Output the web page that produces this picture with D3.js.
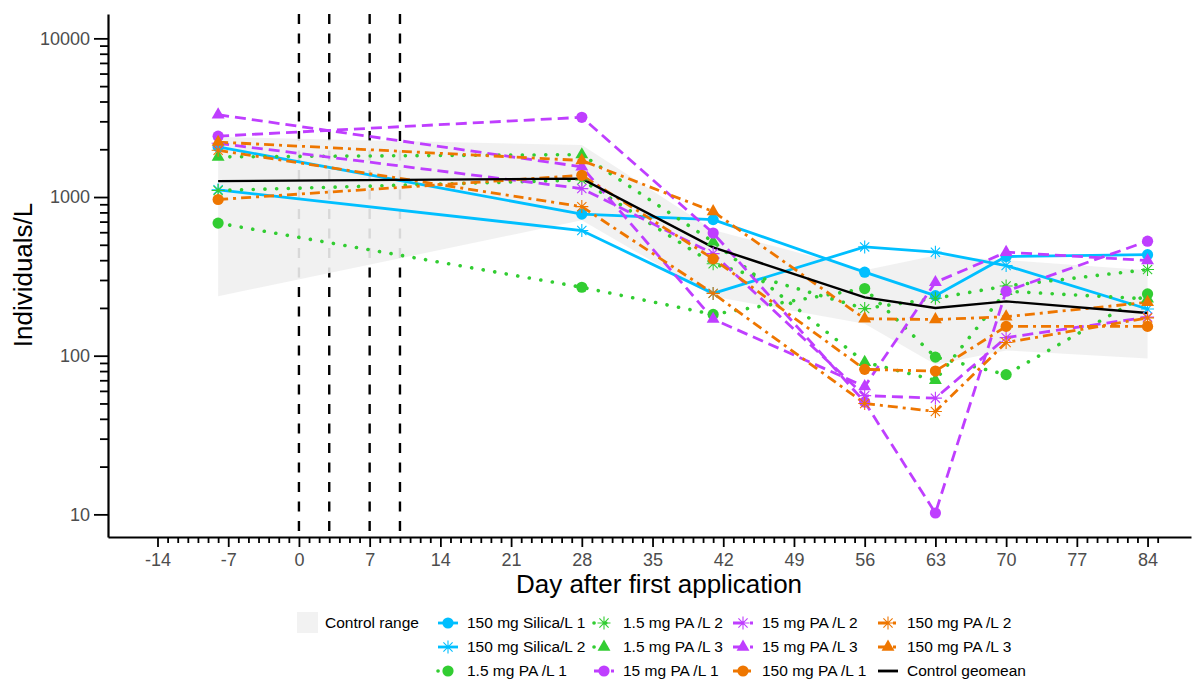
<!DOCTYPE html>
<html>
<head>
<meta charset="utf-8">
<script src="https://cdn.jsdelivr.net/npm/d3@7"></script>
<style>
  body { margin: 0; background: #fff; }
  svg { font-family: "Liberation Sans", Arial, sans-serif; }
</style>
</head>
<body>
<div id="chart"></div>
<script>
// sampling days and application days
var days = [-8, 28, 41, 56, 63, 70, 84];
var applicationDays = [0, 3, 7, 10];

// individuals per litre, one value per sampling day
var silica1  = [2070, 780, 720, 336, 239, 422, 433];
var silica2  = [1110, 615, 247, 485, 449, 370, 197];
var pa1_5_1  = [685, 270, 182, 265, 98, 76, 245];
var pa1_5_2  = [1100, 1280, 380, 198, 230, 275, 349];
var pa1_5_3  = [1790, 1850, 522, 91, 70, 255, 228];
var pa15_1   = [2420, 3180, 593, 51, 10.2, 255, 527];
var pa15_2   = [2180, 1130, 440, 56, 54, 130, 175];
var pa15_3   = [3300, 1550, 170, 64, 290, 449, 398];
var pa150_1  = [965, 1370, 408, 82, 80, 153, 153];
var pa150_2  = [1970, 870, 247, 50, 44.5, 121, 173];
var pa150_3  = [2220, 1700, 810, 171, 169, 176, 217];
var ctrlGeomean = [1260, 1306, 482, 233, 200, 220, 186];
var ctrlMin  = [237, 713, 236, 159, 88, 108, 96];
var ctrlMax  = [2393, 2124, 620, 345, 428, 400, 346];

var xMajorTicks = [-14, -7, 0, 7, 14, 21, 28, 35, 42, 49, 56, 63, 70, 77, 84];
var yMajorTicks = [10, 100, 1000, 10000];

var blue = "#00BFFF", green = "#32CD32", purple = "#BF3EFF", orange = "#EE7600";
var solid = null, dotted = "0.1,11.6", dashed = "11,6", dotdash = "10,5,3,5";

var series = [
  {name: "150 mg Silica/L 1", values: silica1, color: blue,   dash: solid,   shape: "circle"},
  {name: "150 mg Silica/L 2", values: silica2, color: blue,   dash: solid,   shape: "asterisk"},
  {name: "1.5 mg PA /L 1",    values: pa1_5_1, color: green,  dash: dotted,  shape: "circle"},
  {name: "1.5 mg PA /L 2",    values: pa1_5_2, color: green,  dash: dotted,  shape: "asterisk"},
  {name: "1.5 mg PA /L 3",    values: pa1_5_3, color: green,  dash: dotted,  shape: "triangle"},
  {name: "15 mg PA /L 1",     values: pa15_1,  color: purple, dash: dashed,  shape: "circle"},
  {name: "15 mg PA /L 2",     values: pa15_2,  color: purple, dash: dashed,  shape: "asterisk"},
  {name: "15 mg PA /L 3",     values: pa15_3,  color: purple, dash: dashed,  shape: "triangle"},
  {name: "150 mg PA /L 1",    values: pa150_1, color: orange, dash: dotdash, shape: "circle"},
  {name: "150 mg PA /L 2",    values: pa150_2, color: orange, dash: dotdash, shape: "asterisk"},
  {name: "150 mg PA /L 3",    values: pa150_3, color: orange, dash: dotdash, shape: "triangle"}
];

var width = 1198, height = 680;

var svg = d3.select("#chart")
  .append("svg")
  .attr("width", width)
  .attr("height", height);

var x = d3.scaleLinear().domain([-18.9, 88.3]).range([108, 1191]);
var y = d3.scaleLog().domain([7.2, 14240]).range([537, 14]);

// application days
svg.append("g")
  .selectAll("line")
  .data(applicationDays)
  .enter()
  .append("line")
  .attr("x1", function(d) { return x(d); })
  .attr("x2", function(d) { return x(d); })
  .attr("y1", 14)
  .attr("y2", 537)
  .attr("stroke", "#000")
  .attr("stroke-width", 2.4)
  .attr("stroke-dasharray", "10,9.5");

// control range ribbon
var ribbon = d3.area()
  .x(function(d, i) { return x(days[i]); })
  .y0(function(d, i) { return y(ctrlMin[i]); })
  .y1(function(d, i) { return y(ctrlMax[i]); });

svg.append("path")
  .attr("d", ribbon(days))
  .attr("fill", "#F0F0F0")
  .attr("fill-opacity", 0.9);

var line = d3.line()
  .x(function(d, i) { return x(days[i]); })
  .y(function(d) { return y(d); });

function lineStyle(sel, s) {
  sel.attr("fill", "none")
    .attr("stroke", s.color)
    .attr("stroke-width", s.dash === dotted ? 3.6 : 2.8)
    .attr("stroke-linecap", s.dash === dotted ? "round" : "butt");
  if (s.dash) sel.attr("stroke-dasharray", s.dash);
  return sel;
}

function drawMarker(g, shape, cx, cy, color) {
  if (shape === "circle") {
    g.append("circle").attr("cx", cx).attr("cy", cy).attr("r", 5.6).attr("fill", color);
  } else if (shape === "triangle") {
    g.append("path")
      .attr("d", d3.symbol(d3.symbolTriangle, 72)())
      .attr("transform", "translate(" + cx + "," + cy + ")")
      .attr("fill", color);
  } else {
    g.append("path")
      .attr("d", "M-6.5,0H6.5M0,-6.5V6.5M-4.6,-4.6L4.6,4.6M-4.6,4.6L4.6,-4.6")
      .attr("transform", "translate(" + cx + "," + cy + ")")
      .attr("stroke", color)
      .attr("stroke-width", 1.1)
      .attr("fill", "none");
  }
}

// treatment lines
var linesG = svg.append("g");
series.forEach(function(s) {
  lineStyle(linesG.append("path").attr("d", line(s.values)), s);
});

// control geomean
svg.append("path")
  .attr("d", line(ctrlGeomean))
  .attr("fill", "none")
  .attr("stroke", "#000")
  .attr("stroke-width", 2.4);

// points
var pointsG = svg.append("g");
series.forEach(function(s) {
  s.values.forEach(function(v, i) {
    drawMarker(pointsG, s.shape, x(days[i]), y(v), s.color);
  });
});

// axes
var xMinor = [];
for (var d = -14; d <= 85; d++) { if (d % 7 !== 0) xMinor.push(d); }
var yMinor = [];
[10, 100, 1000].forEach(function(b) { for (var k = 2; k <= 9; k++) yMinor.push(b * k); });

svg.append("g")
  .attr("transform", "translate(0,537)")
  .call(d3.axisBottom(x).tickValues(xMajorTicks).tickSize(10).tickSizeOuter(0).tickPadding(6)
    .tickFormat(function(d) { return String(d); }));
svg.append("g")
  .attr("transform", "translate(0,537)")
  .call(d3.axisBottom(x).tickValues(xMinor).tickSize(6).tickSizeOuter(0).tickFormat(""))
  .call(function(g) { g.select(".domain").remove(); });

svg.append("g")
  .attr("transform", "translate(108,0)")
  .call(d3.axisLeft(y).tickValues(yMajorTicks).tickSize(14).tickSizeOuter(0).tickPadding(4)
    .tickFormat(function(d) { return String(d); }));
svg.append("g")
  .attr("transform", "translate(108,0)")
  .call(d3.axisLeft(y).tickValues(yMinor).tickSize(8).tickSizeOuter(0).tickFormat(""))
  .call(function(g) { g.select(".domain").remove(); });

svg.selectAll(".domain").attr("stroke", "#000").attr("stroke-width", 2.2);
svg.selectAll(".tick line").attr("stroke", "#000").attr("stroke-width", 1.8);
svg.selectAll(".tick text")
  .attr("fill", "#4D4D4D")
  .style("font-size", "18px")
  .style("font-family", "'Liberation Sans', Arial, sans-serif");

// axis titles
svg.append("text")
  .attr("x", 659)
  .attr("y", 593)
  .attr("text-anchor", "middle")
  .style("font-size", "26px")
  .text("Day after first application");

svg.append("text")
  .attr("transform", "translate(32,275) rotate(-90)")
  .attr("text-anchor", "middle")
  .style("font-size", "26px")
  .text("Individuals/L");

// legend
var legend = svg.append("g");
legend.append("rect")
  .attr("x", 297).attr("y", 612).attr("width", 21).attr("height", 21)
  .attr("fill", "#F2F2F2");
legend.append("text")
  .attr("x", 325).attr("y", 623).attr("dy", "0.35em")
  .style("font-size", "15.5px")
  .text("Control range");

var legendCols = [438, 594, 733, 878];
var legendRows = [623, 647, 671];

var legendItems = series.concat([{name: "Control geomean", color: "#000", dash: solid, shape: null}]);
legendItems.forEach(function(s, i) {
  var kx = legendCols[Math.floor(i / 3)], ky = legendRows[i % 3];
  var ln = legend.append("line")
    .attr("x1", kx).attr("x2", kx + 20)
    .attr("y1", ky).attr("y2", ky);
  lineStyle(ln, s);
  if (s.shape) drawMarker(legend, s.shape, kx + 10, ky, s.color);
  legend.append("text")
    .attr("x", kx + 29).attr("y", ky).attr("dy", "0.35em")
    .style("font-size", "15.5px")
    .text(s.name);
});
</script>
</body>
</html>
